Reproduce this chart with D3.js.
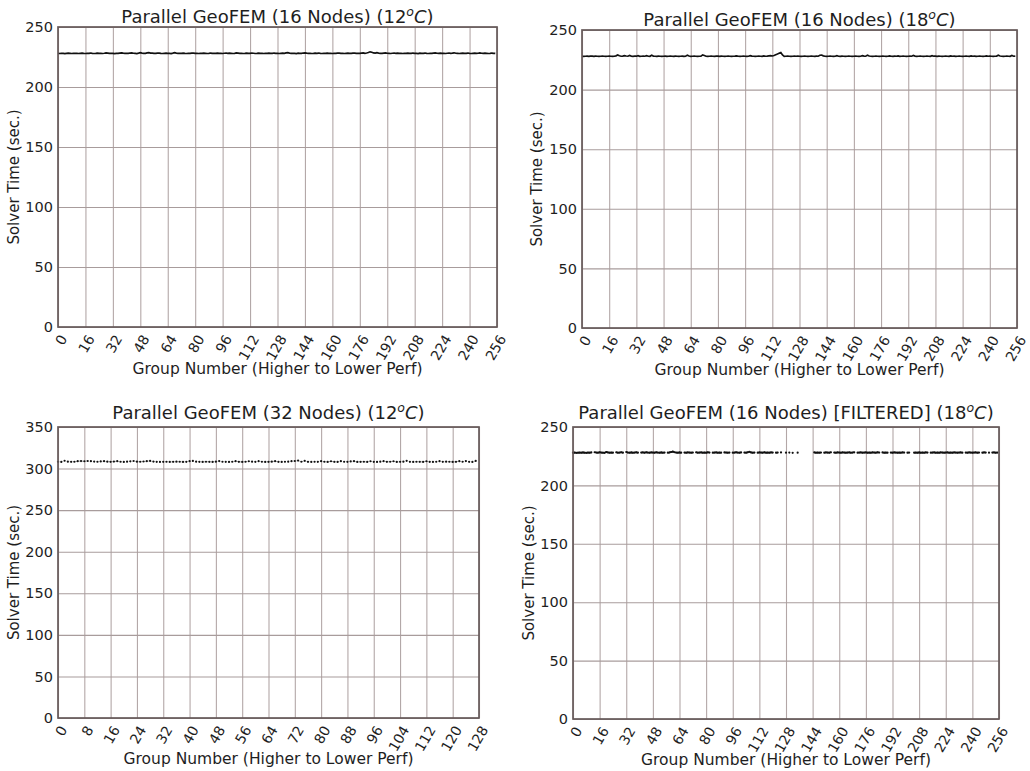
<!DOCTYPE html>
<html><head><meta charset="utf-8">
<script src="https://cdn.jsdelivr.net/npm/d3@7/dist/d3.min.js"></script>
<style>
body{margin:0;background:#fff;}
svg{display:block;font-family:"DejaVu Sans",sans-serif;}
</style></head>
<body>
<svg id="chart" width="1030" height="771"></svg>
<script>
// ---------- data ----------
const titles = [
  ["Parallel GeoFEM (16 Nodes) (12", ")"],
  ["Parallel GeoFEM (16 Nodes) (18", ")"],
  ["Parallel GeoFEM (32 Nodes) (12", ")"],
  ["Parallel GeoFEM (16 Nodes) [FILTERED] (18", ")"]
];
const xLabel = "Group Number (Higher to Lower Perf)";
const yLabel = "Solver Time (sec.)";
const xTicks256 = [0,16,32,48,64,80,96,112,128,144,160,176,192,208,224,240,256];
const xTicks128 = [0,8,16,24,32,40,48,56,64,72,80,88,96,104,112,120,128];
const yTicks250 = [0,50,100,150,200,250];
const yTicks350 = [0,50,100,150,200,250,300,350];

const solver16n12C = [
228.0,227.9,228.1,228.0,227.8,228.0,228.2,228.1,227.9,228.0,228.1,228.0,227.9,228.1,228.2,228.0,
227.9,228.0,228.1,228.3,228.0,227.9,228.0,228.2,228.1,228.0,227.9,228.1,228.4,228.2,228.0,228.1,
228.0,227.8,228.0,228.1,228.3,228.5,228.2,228.0,228.1,228.0,228.3,228.4,228.1,228.0,227.9,228.2,
228.6,228.3,228.1,228.0,228.4,228.7,228.3,228.2,228.0,228.1,228.3,228.2,228.0,227.9,228.1,228.2,
228.1,228.0,227.9,228.2,228.6,228.3,228.1,228.0,228.1,228.2,228.0,227.9,228.1,228.0,228.2,228.3,
228.1,228.0,227.9,228.1,228.0,228.2,228.1,227.9,228.0,228.3,228.1,228.0,228.0,228.2,228.1,228.0,
227.9,228.1,228.3,228.0,228.2,228.1,227.9,228.0,228.4,228.2,228.0,228.1,227.9,228.0,228.2,228.1,
228.0,228.3,228.1,227.9,228.0,228.2,228.1,228.0,227.9,228.1,228.0,228.2,228.1,228.0,228.3,228.1,
228.0,227.9,228.1,228.2,228.0,228.4,228.6,228.2,228.0,228.1,228.0,227.9,228.2,228.1,228.0,228.3,
228.5,228.2,228.0,228.1,227.9,228.0,228.2,228.1,228.3,228.0,227.9,228.1,228.0,228.2,228.1,228.0,
227.9,228.1,228.0,228.2,228.3,228.1,228.0,227.9,228.1,228.2,228.0,228.1,228.3,228.2,228.0,228.1,
228.0,228.2,228.4,228.1,228.3,228.7,229.3,229.0,228.4,228.2,228.6,228.3,228.1,228.0,228.2,228.4,
228.1,228.0,227.9,228.1,228.3,228.0,228.2,228.1,228.0,227.9,228.1,228.0,228.2,228.1,228.0,228.3,
228.1,228.0,227.9,228.2,228.0,228.1,228.3,228.0,227.9,228.1,228.0,228.2,228.4,228.1,228.0,228.2,
228.1,228.0,227.9,228.1,228.3,228.0,228.2,228.5,228.1,228.0,227.9,228.1,228.2,228.0,228.1,228.3,
228.0,227.9,228.1,228.2,228.0,228.1,228.4,228.1,228.0,228.2,228.1,227.9,228.0,228.3,228.1,228.0];

const solver16n18C = [
228.0,227.9,228.0,228.1,227.9,228.0,228.0,227.9,228.1,228.0,227.9,228.0,228.1,228.0,227.9,228.0,
228.1,228.0,227.9,228.0,228.3,229.0,228.4,228.0,228.1,228.5,228.2,228.0,228.6,228.1,227.9,228.0,
228.0,228.4,227.9,228.0,228.1,228.0,228.5,228.0,227.9,228.8,228.1,228.0,227.9,228.1,228.0,227.9,
228.0,228.1,227.9,228.0,228.2,228.0,227.9,228.1,228.0,227.9,228.0,228.1,227.9,228.0,228.9,228.2,
227.9,228.0,228.1,228.0,227.9,228.0,228.1,229.1,228.6,228.0,227.9,228.0,228.1,228.0,227.9,228.0,
228.0,227.9,228.1,228.0,227.9,228.0,228.1,228.0,227.9,228.0,228.1,228.3,228.0,227.9,228.0,228.1,
228.0,227.9,228.0,228.5,228.1,228.0,227.9,228.0,228.1,228.0,227.9,228.2,228.0,228.1,228.3,228.5,
228.2,228.6,229.2,229.8,230.5,231.1,229.0,227.9,228.0,228.1,228.0,227.9,228.0,228.1,228.0,228.2,
228.0,227.9,228.0,228.1,228.0,227.9,228.0,228.2,228.0,227.9,228.1,228.0,228.8,229.0,228.3,228.0,
227.9,228.0,228.1,228.0,227.9,228.0,228.4,228.0,227.9,228.1,228.0,227.9,228.0,228.1,228.0,227.9,
228.0,228.1,228.0,227.9,228.0,228.5,228.1,228.0,228.9,228.2,228.0,227.9,228.0,228.1,228.0,227.9,
228.0,228.1,228.0,227.9,228.0,228.3,228.0,227.9,228.1,228.0,228.2,227.9,228.0,228.1,228.0,227.9,
228.0,228.1,228.0,228.6,228.1,227.9,228.0,228.1,228.0,227.9,228.0,228.1,228.0,227.9,228.4,228.0,
228.0,227.9,228.1,228.0,227.9,228.0,228.1,228.0,227.9,228.3,228.0,228.1,227.9,228.0,228.1,228.0,
227.9,228.0,228.1,228.0,227.9,228.2,228.0,228.1,227.9,228.0,228.1,228.0,227.9,228.0,228.3,228.0,
228.1,228.0,227.9,228.0,228.1,228.8,228.2,228.0,227.9,228.0,228.1,228.0,227.9,228.6,228.0,228.1];

const solver32n12C = [
308.2,308.0,309.4,308.3,308.1,308.2,308.9,309.0,308.8,309.1,308.9,308.4,308.2,308.6,308.9,308.3,
308.1,308.4,308.9,308.2,308.0,308.3,308.7,309.1,308.3,308.2,308.5,308.9,309.2,308.4,308.1,308.0,
308.1,308.2,308.0,308.1,308.3,308.2,308.0,308.1,308.9,309.2,308.3,308.1,308.0,308.2,308.1,308.0,
308.3,309.0,308.2,308.1,308.0,308.2,308.9,308.1,308.0,308.2,308.8,308.3,308.1,308.9,308.2,308.0,
308.1,308.3,308.9,308.1,308.0,308.2,308.3,308.9,309.1,309.6,308.2,309.3,308.1,308.0,308.2,308.1,
308.9,308.2,308.0,308.8,308.1,308.0,308.9,308.2,308.1,308.6,308.9,308.0,308.1,308.2,308.0,308.8,
308.1,308.0,308.3,308.9,308.1,308.2,308.8,308.0,308.1,308.3,309.3,308.1,308.0,308.2,308.1,308.0,
308.8,308.1,308.0,308.2,308.9,308.1,308.3,308.2,308.0,308.1,308.9,308.2,309.0,308.1,308.0,309.2];

const solver16n18CFiltered = [
228.0,228.1,227.9,228.0,228.1,228.0,228.2,228.0,227.9,228.1,228.0,228.2,null,228.4,228.1,228.0,
228.3,228.1,228.0,227.9,228.5,228.2,228.0,228.1,228.0,null,228.3,228.0,228.1,228.4,228.0,null,
228.6,228.1,228.0,228.2,228.0,228.1,228.3,228.0,null,228.1,228.2,228.0,228.3,228.1,228.0,228.2,
228.1,228.0,228.3,228.1,228.0,228.2,228.0,228.1,null,228.0,228.2,228.6,228.9,228.4,228.1,228.0,
228.2,228.0,null,228.1,228.0,228.2,228.1,228.0,228.1,null,228.3,228.0,228.1,228.2,228.0,228.1,
228.0,228.3,228.1,null,228.0,228.1,228.2,228.0,228.1,228.0,null,228.2,228.1,228.0,228.1,null,
228.0,228.1,228.3,228.1,228.0,228.2,null,228.1,228.0,228.3,228.8,228.2,228.0,228.1,null,228.0,
228.2,228.1,228.0,228.3,228.0,228.1,228.0,228.2,228.1,null,228.0,228.1,null,228.2,null,null,
228.0,null,228.1,null,227.9,null,null,228.0,null,null,null,null,null,null,null,null,
null,228.2,228.0,228.1,228.0,228.1,null,228.0,228.2,228.1,228.0,228.3,null,228.1,228.0,228.2,
228.1,228.0,228.2,228.1,228.0,228.1,228.2,228.0,228.1,228.3,null,228.0,228.1,228.2,228.0,228.1,
228.2,228.0,228.1,228.0,228.2,228.1,228.0,228.3,228.1,null,228.2,228.0,228.1,228.0,null,228.1,
228.0,228.2,228.1,228.0,228.1,228.0,228.2,228.1,null,228.0,228.1,null,null,228.0,228.1,228.0,
228.2,228.0,228.1,228.0,228.2,228.1,null,228.0,228.1,228.2,228.0,228.1,228.0,228.2,228.1,228.0,
228.1,228.2,228.0,228.1,228.0,228.2,228.1,228.0,228.1,228.2,228.0,null,228.1,228.0,228.2,228.1,
228.0,228.1,228.2,228.0,228.1,null,228.0,228.2,228.1,null,228.0,null,228.1,228.2,228.0,228.1];

// ---------- layout ----------
const panels = [
  {data: solver16n12C, title: titles[0], xMax: 256, xTicks: xTicks256, yMax: 250, yTicks: yTicks250,
   box: {l: 58, r: 497, t: 27, b: 327}, titleY: 23, xLabY: 374, yLabX: 19, style: "line"},
  {data: solver16n18C, title: titles[1], xMax: 256, xTicks: xTicks256, yMax: 250, yTicks: yTicks250,
   box: {l: 582, r: 1017, t: 30, b: 328}, titleY: 26, xLabY: 375, yLabX: 542, style: "line"},
  {data: solver32n12C, title: titles[2], xMax: 128, xTicks: xTicks128, yMax: 350, yTicks: yTicks350,
   box: {l: 58, r: 479, t: 427, b: 718}, titleY: 419, xLabY: 764, yLabX: 19, style: "dots"},
  {data: solver16n18CFiltered, title: titles[3], xMax: 256, xTicks: xTicks256, yMax: 250, yTicks: yTicks250,
   box: {l: 573, r: 999, t: 427, b: 719}, titleY: 419, xLabY: 765, yLabX: 534, style: "filtered"}
];

const svg = d3.select("#chart");
const gridColor = "#b3a7a7";
const frameColor = "#665a5a";
const textColor = "#1e1e1e";

panels.forEach(p => {
  const {l, r, t, b} = p.box;
  const x = d3.scaleLinear().domain([0, p.xMax]).range([l, r]);
  const y = d3.scaleLinear().domain([0, p.yMax]).range([b, t]);
  const g = svg.append("g");

  // grid
  g.append("g").attr("transform", `translate(0,${b})`)
    .call(d3.axisBottom(x).tickValues(p.xTicks).tickSize(-(b - t)).tickFormat(""))
    .call(s => s.select(".domain").remove())
    .call(s => s.selectAll("line").attr("stroke", gridColor).attr("stroke-width", 1.1));
  g.append("g").attr("transform", `translate(${l},0)`)
    .call(d3.axisLeft(y).tickValues(p.yTicks).tickSize(-(r - l)).tickFormat(""))
    .call(s => s.select(".domain").remove())
    .call(s => s.selectAll("line").attr("stroke", "#a89c9c").attr("stroke-width", 1.1));

  // data
  const pts = p.data.map((v, i) => ({i, v}));
  const line = d3.line().defined(d => d.v !== null).x(d => x(d.i)).y(d => y(d.v));
  if (p.style === "line") {
    g.append("path").datum(pts).attr("d", line)
      .attr("fill", "none").attr("stroke", "#111").attr("stroke-width", 1.7);
  } else if (p.style === "dots") {
    g.append("path").datum(pts).attr("d", line)
      .attr("fill", "none").attr("stroke", "#666").attr("stroke-width", 0.6).attr("stroke-dasharray", "1.5,1.5");
    g.append("g").selectAll("circle").data(pts).join("circle")
      .attr("cx", d => x(d.i)).attr("cy", d => y(d.v)).attr("r", 1.1).attr("fill", "#111");
  } else {
    g.append("path").datum(pts).attr("d", line)
      .attr("fill", "none").attr("stroke", "#111").attr("stroke-width", 1.5);
    g.append("g").selectAll("circle").data(pts.filter(d => d.v !== null)).join("circle")
      .attr("cx", d => x(d.i)).attr("cy", d => y(d.v)).attr("r", 1.1).attr("fill", "#111");
  }

  // frame
  g.append("rect").attr("x", l).attr("y", t).attr("width", r - l).attr("height", b - t)
    .attr("fill", "none").attr("stroke", frameColor).attr("stroke-width", 1.7);

  // x tick labels
  g.append("g").attr("transform", `translate(0,${b})`)
    .call(d3.axisBottom(x).tickValues(p.xTicks).tickSize(0).tickPadding(0).tickFormat(d3.format("d")))
    .call(s => s.select(".domain").remove())
    .call(s => s.selectAll("text")
      .attr("x", 0).attr("y", 0).attr("dy", "0.35em")
      .attr("transform", "translate(5,9) rotate(-60)")
      .attr("text-anchor", "end")
      .attr("font-size", 14).attr("font-family", "DejaVu Sans").attr("fill", textColor));

  // y tick labels
  g.append("g").attr("transform", `translate(${l},0)`)
    .call(d3.axisLeft(y).tickValues(p.yTicks).tickSize(0).tickPadding(5).tickFormat(d3.format("d")))
    .call(s => s.select(".domain").remove())
    .call(s => s.selectAll("text")
      .attr("font-size", 14.5).attr("font-family", "DejaVu Sans").attr("fill", textColor));

  // title
  const tt = g.append("text").attr("x", (l + r) / 2).attr("y", p.titleY)
    .attr("text-anchor", "middle").attr("font-size", 18).attr("fill", textColor);
  tt.append("tspan").text(p.title[0]);
  tt.append("tspan").attr("font-style", "italic").attr("font-size", 12.5).attr("dy", -7).text("o");
  tt.append("tspan").attr("font-style", "italic").attr("dy", 7).text("C");
  tt.append("tspan").text(p.title[1]);

  // axis labels
  g.append("text").attr("x", (l + r) / 2).attr("y", p.xLabY)
    .attr("text-anchor", "middle").attr("font-size", 15.5).attr("fill", textColor).text(xLabel);
  g.append("text").attr("transform", `translate(${p.yLabX},${(t + b) / 2}) rotate(-90)`)
    .attr("text-anchor", "middle").attr("font-size", 15).attr("fill", textColor).text(yLabel);
});
</script>
</body></html>
